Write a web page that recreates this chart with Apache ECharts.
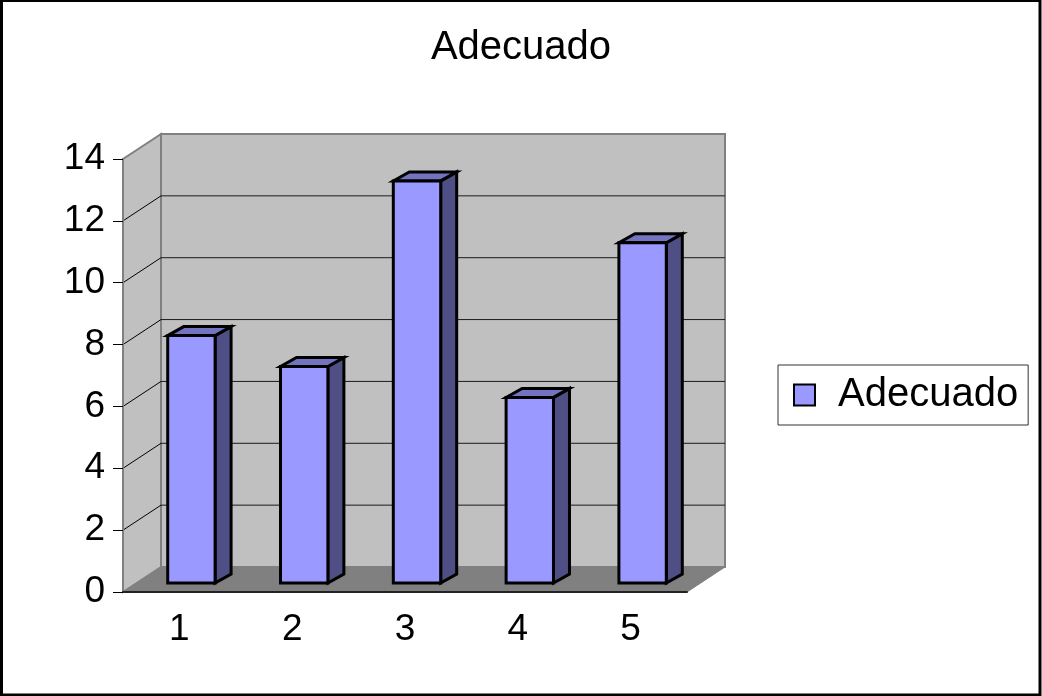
<!DOCTYPE html>
<html>
<head>
<meta charset="utf-8">
<script src="https://cdn.jsdelivr.net/npm/echarts@6/dist/echarts.min.js"></script>
<style>
  html, body {margin: 0; padding: 0; background: #fff;}
  #main {width: 1042px; height: 696px;}
</style>
</head>
<body>
<div id="main"></div>
<script>
const categories = ['1', '2', '3', '4', '5']
const values = [8, 7, 13, 6, 11]
const yTicks = [0, 2, 4, 6, 8, 10, 12, 14]

const DX = 38, DY = -25        // profundidad del muro trasero
const fontName = '"Liberation Sans", Arial, sans-serif'

const chart = echarts.init(document.getElementById('main'))

// paredes, suelo y lineas de division
const renderWalls = (params, api) => {
  const cs = params.coordSys
  const x0 = cs.x, x1 = cs.x + cs.width
  const yb = api.coord([0, yTicks[0]])[1]
  const yt = api.coord([0, yTicks[yTicks.length - 1]])[1]
  const wallStyle = {fill: '#C0C0C0', stroke: '#808080', lineWidth: 2}
  const children = [
    {type: 'polygon', shape: {points: [[x0, yb], [x0, yt], [x0 + DX, yt + DY], [x0 + DX, yb + DY]]}, style: wallStyle},
    {type: 'rect', shape: {x: x0 + DX, y: yt + DY, width: x1 - x0, height: yb - yt}, style: wallStyle},
    {type: 'polygon', shape: {points: [[x0, yb], [x1, yb], [x1 + DX, yb + DY], [x0 + DX, yb + DY]]},
      style: {fill: '#808080', stroke: '#808080', lineWidth: 1}}
  ]
  for (let i = 1; i < yTicks.length - 1; i++) {
    const y = api.coord([0, yTicks[i]])[1]
    children.push({type: 'line', shape: {x1: x0 + DX, y1: y + DY, x2: x1 + DX, y2: y + DY}, style: {stroke: '#1a1a1a', lineWidth: 1}})
    children.push({type: 'line', shape: {x1: x0, y1: y, x2: x0 + DX, y2: y + DY}, style: {stroke: '#000', lineWidth: 1}})
  }
  return {type: 'group', children: children}
}

// barras 3D
const renderBar = (params, api) => {
  const base = api.coord([api.value(0), 0])
  const top = api.coord([api.value(0), api.value(1)])
  const w = api.size([1, 0])[0] * 0.42
  const ox = 12, oy = -9, dx = 16, dy = -9
  const xl = base[0] + ox - w / 2, xr = xl + w
  const yb = base[1] + oy, yt = top[1] + oy
  const line = {stroke: '#000', lineWidth: 3, lineJoin: 'miter'}
  return {
    type: 'group',
    children: [
      {type: 'polygon', shape: {points: [[xr, yt], [xr + dx, yt + dy], [xr + dx, yb + dy], [xr, yb]]}, style: Object.assign({fill: '#4F4F85'}, line)},
      {type: 'polygon', shape: {points: [[xl, yt], [xr, yt], [xr + dx, yt + dy], [xl + dx, yt + dy]]}, style: Object.assign({fill: '#7373BF'}, line)},
      {type: 'rect', shape: {x: xl, y: yt, width: w, height: yb - yt}, style: Object.assign({fill: '#9999FF'}, line)}
    ]
  }
}

const option = {
  animation: false,
  backgroundColor: '#fff',
  title: {
    text: 'Adecuado',
    left: 'center',
    top: 23,
    textStyle: {fontFamily: fontName, fontSize: 40, fontWeight: 'normal', color: '#000'}
  },
  legend: {
    data: ['Adecuado'],
    left: 778,
    top: 365,
    orient: 'vertical',
    icon: 'rect',
    itemWidth: 21,
    itemHeight: 21,
    padding: [10, 10, 10, 15],
    backgroundColor: '#fff',
    borderColor: '#333',
    borderWidth: 1,
    borderRadius: 0,
    itemStyle: {borderColor: '#000', borderWidth: 2},
    textStyle: {fontFamily: fontName, fontSize: 40, color: '#000', lineHeight: 40, padding: [0, 0, 0, 18]}
  },
  grid: {
    left: 123,
    right: 355,
    top: 159,
    bottom: 104
  },
  xAxis: {
    type: 'category',
    data: categories,
    z: 5,
    boundaryGap: true,
    axisLine: {lineStyle: {color: '#222', width: 2}},
    axisTick: {length: 8, lineStyle: {color: '#000', width: 1}},
    axisLabel: {fontFamily: fontName, fontSize: 37, color: '#000', margin: 19}
  },
  yAxis: {
    type: 'value',
    min: 0,
    max: 14,
    interval: 2,
    z: 5,
    axisLine: {show: true, lineStyle: {color: '#808080', width: 2}},
    axisTick: {show: true, length: 10, lineStyle: {color: '#000', width: 1}},
    axisLabel: {fontFamily: fontName, fontSize: 37, color: '#000', margin: 18},
    splitLine: {show: false}
  },
  series: [
    {
      name: 'walls',
      type: 'custom',
      z: 1,
      silent: true,
      renderItem: renderWalls,
      data: [[0, 0]]
    },
    {
      name: 'Adecuado',
      type: 'custom',
      z: 3,
      itemStyle: {color: '#9999FF'},
      renderItem: renderBar,
      encode: {x: 0, y: 1},
      data: values.map((v, i) => [i, v])
    }
  ],
  graphic: [
    {
      type: 'rect',
      z: 100,
      shape: {x: 1.5, y: 0.5, width: 1038.5, height: 694.5},
      style: {fill: 'none', stroke: '#000', lineWidth: 3}
    }
  ]
}

chart.setOption(option)
</script>
</body>
</html>
